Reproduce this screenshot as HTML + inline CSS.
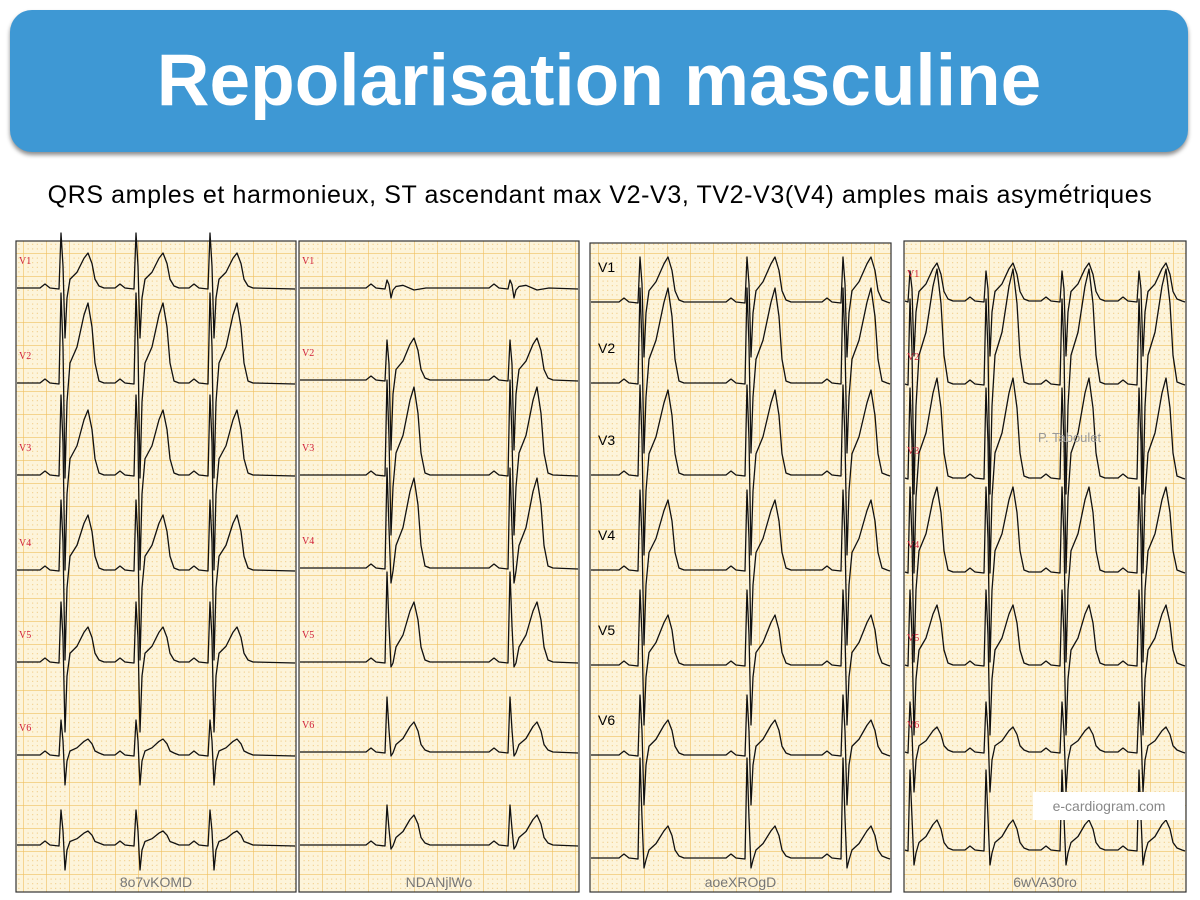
<!DOCTYPE html>
<html><head><meta charset="utf-8"><style>
body{margin:0;width:1200px;height:900px;background:#fff;overflow:hidden;font-family:"Liberation Sans",sans-serif}
#ban{position:absolute;left:10px;top:10px;width:1178px;height:142px;border-radius:22px;background:#3e98d4;box-shadow:0 3px 4px rgba(0,0,0,.45);color:#fff;font-weight:bold;font-size:73px;text-align:center;line-height:142px}
#sub{position:absolute;left:0;width:1200px;top:181px;text-align:center;font-size:25px;letter-spacing:0.6px;color:#000;white-space:nowrap}
svg{position:absolute;left:0;top:0}
</style></head><body>
<div id="ban">Repolarisation masculine</div>
<div id="sub">QRS amples et harmonieux, ST ascendant max V2-V3, TV2-V3(V4) amples mais asymétriques</div>
<svg id="s" width="1200" height="900" xmlns="http://www.w3.org/2000/svg">
<defs>
<pattern id="g" width="23" height="23" patternUnits="userSpaceOnUse">
<rect width="23" height="23" fill="#fdf4da"/>
<g fill="#efc474"><rect x="4.6" y="4.6" width="1" height="1"/><rect x="9.2" y="4.6" width="1" height="1"/><rect x="13.8" y="4.6" width="1" height="1"/><rect x="18.4" y="4.6" width="1" height="1"/>
<rect x="4.6" y="9.2" width="1" height="1"/><rect x="9.2" y="9.2" width="1" height="1"/><rect x="13.8" y="9.2" width="1" height="1"/><rect x="18.4" y="9.2" width="1" height="1"/>
<rect x="4.6" y="13.8" width="1" height="1"/><rect x="9.2" y="13.8" width="1" height="1"/><rect x="13.8" y="13.8" width="1" height="1"/><rect x="18.4" y="13.8" width="1" height="1"/>
<rect x="4.6" y="18.4" width="1" height="1"/><rect x="9.2" y="18.4" width="1" height="1"/><rect x="13.8" y="18.4" width="1" height="1"/><rect x="18.4" y="18.4" width="1" height="1"/></g>
<path d="M0 0H23M0 0V23" stroke="#f0c060" stroke-width="1.2" fill="none"/>
</pattern>
</defs>
</svg>
<script>
var s=document.getElementById('s'),NS='http://www.w3.org/2000/svg';
function el(t,a,txt){var e=document.createElementNS(NS,t);for(var k in a)e.setAttribute(k,a[k]);if(txt)e.textContent=txt;s.appendChild(e);return e;}
var panels=[
{x:16,w:280,y:241,h:651,beats:[62,137,211],base:[288,383,475,570,662,755,845],
 amp:[[55,50,35],[90,95,80],[80,95,65],[70,90,55],[60,70,35],[35,30,16],[35,25,14]],lab:'red',name:'8o7vKOMD'},
{x:299,w:280,y:241,h:651,beats:[388,511],base:[288,380,475,568,662,752,845],
 amp:[[8,10,-6],[40,70,42],[95,60,88],[100,15,90],[90,5,60],[55,4,30],[40,4,30]],lab:'red',name:'NDANjlWo'},
{x:590,w:301,y:243,h:649,beats:[641,748,844],base:[302,383,475,570,665,755,858],
 amp:[[45,55,45],[95,70,95],[90,80,85],[80,75,70],[75,60,50],[60,50,35],[100,10,32]],lab:'black',name:'aoeXROgD'},
{x:904,w:282,y:241,h:651,beats:[911,987,1063,1140],base:[301,384,478,572,665,752,850],
 amp:[[30,55,38],[85,110,115],[90,95,100],[85,90,85],[75,70,60],[50,40,25],[80,15,30]],lab:'red',name:'6wVA30ro'}];
panels.forEach(function(p,pi){
 el('rect',{x:p.x,y:p.y,width:p.w,height:p.h,fill:'url(#g)',stroke:'#333','stroke-width':1.2});
 var names=['V1','V2','V3','V4','V5','V6',''];
 p.base.forEach(function(b,li){
  var a=p.amp[li],d='M'+(p.x+1)+' '+b,x0=p.x+1;
  var tx=pi==2?27:26;
  p.beats.forEach(function(q){
   var pts=[[q-22,b],[q-17,b-4],[q-12,b],[q-3,b+1],[q-1,b-a[0]],[q+1,b-a[0]*0.4],[q+3,b+a[1]],[q+5,b+a[1]*0.2],[q+8,b-Math.abs(a[2])*0.25],[q+15,b-Math.abs(a[2])*0.45],[q+tx-4,b-Math.abs(a[2])*0.85]];
   if(a[2]>0){pts.push([q+tx,b-a[2]],[q+tx+4,b-a[2]*0.7],[q+tx+7,b-a[2]*0.25],[q+tx+11,b-2],[q+tx+16,b]);}
   else{pts.pop();pts.push([q+tx,b+2],[q+tx+12,b]);}
   pts.forEach(function(t){if(t[0]>x0&&t[0]<p.x+p.w-1){d+=' L'+t[0]+' '+t[1];}});
  });
  d+=' L'+(p.x+p.w-1)+' '+(b+1);
  el('path',{d:d,fill:'none',stroke:'#111','stroke-width':1.3,'stroke-linejoin':'round'});
  if(names[li]){
   if(p.lab=='red')el('text',{x:p.x+3,y:b-24,fill:'#d0203a','font-size':10,'font-family':'Liberation Serif,serif'},names[li]);
   else el('text',{x:p.x+8,y:b-30,fill:'#000','font-size':14,'font-family':'Liberation Sans,sans-serif'},names[li]);
  }
 });
 el('text',{x:p.x+p.w/2,y:p.y+p.h-5,fill:'#777','font-size':14,'text-anchor':'middle','font-family':'Liberation Sans,sans-serif'},p.name);
});
el('rect',{x:1033,y:792,width:152,height:28,fill:'#fff'});
el('text',{x:1109,y:811,fill:'#888','font-size':14,'text-anchor':'middle'},'e-cardiogram.com');
el('text',{x:1038,y:442,fill:'#999','font-size':13},'P. Taboulet');
</script>
</body></html>
